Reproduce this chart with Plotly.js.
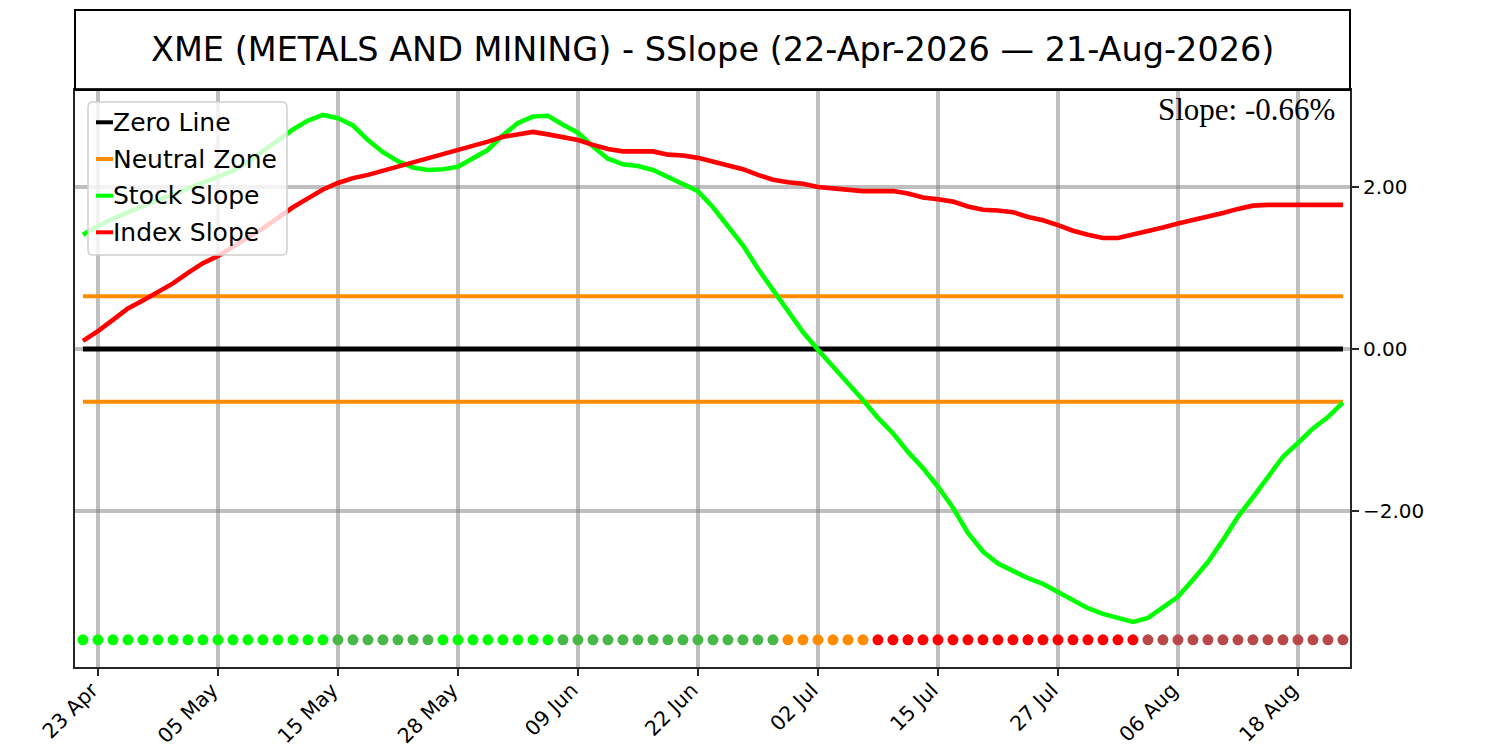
<!DOCTYPE html>
<html>
<head>
<meta charset="utf-8">
<script src="https://cdn.plot.ly/plotly-3.0.1.min.js"></script>
<style>
  html, body { margin: 0; padding: 0; background: #fff; }
  #chart { width: 1500px; height: 750px; }
</style>
</head>
<body>
<div id="chart"></div>
<script>
// trading days 22 Apr - 21 Aug 2026
const dayLabels = [
  '22 Apr', '23 Apr', '24 Apr', '27 Apr', '28 Apr', '29 Apr', '30 Apr',
  '01 May', '04 May', '05 May', '06 May', '07 May', '08 May', '11 May', '12 May',
  '13 May', '14 May', '15 May', '18 May', '19 May', '20 May', '21 May', '22 May',
  '26 May', '27 May', '28 May', '29 May',
  '01 Jun', '02 Jun', '03 Jun', '04 Jun', '05 Jun', '08 Jun', '09 Jun', '10 Jun',
  '11 Jun', '12 Jun', '15 Jun', '16 Jun', '17 Jun', '18 Jun', '22 Jun', '23 Jun',
  '24 Jun', '25 Jun', '26 Jun', '29 Jun', '30 Jun',
  '01 Jul', '02 Jul', '06 Jul', '07 Jul', '08 Jul', '09 Jul', '10 Jul', '13 Jul',
  '14 Jul', '15 Jul', '16 Jul', '17 Jul', '20 Jul', '21 Jul', '22 Jul', '23 Jul',
  '24 Jul', '27 Jul', '28 Jul', '29 Jul', '30 Jul', '31 Jul',
  '03 Aug', '04 Aug', '05 Aug', '06 Aug', '07 Aug', '10 Aug', '11 Aug', '12 Aug',
  '13 Aug', '14 Aug', '17 Aug', '18 Aug', '19 Aug', '20 Aug', '21 Aug'
];

const tickDays = ['23 Apr', '05 May', '15 May', '28 May', '09 Jun', '22 Jun',
                  '02 Jul', '15 Jul', '27 Jul', '06 Aug', '18 Aug'];

const stockSlope = [
  1.41, 1.52, 1.61, 1.69, 1.77, 1.84, 1.91, 1.98, 2.05, 2.12,
  2.20, 2.31, 2.44, 2.57, 2.71, 2.82, 2.89, 2.85, 2.76, 2.58,
  2.43, 2.32, 2.24, 2.21, 2.22, 2.25, 2.35, 2.46, 2.64, 2.79,
  2.87, 2.88, 2.77, 2.67, 2.50, 2.35, 2.28, 2.26, 2.21, 2.12,
  2.04, 1.95, 1.75, 1.52, 1.28, 0.99, 0.73, 0.46, 0.21, -0.01,
  -0.21, -0.41, -0.63, -0.85, -1.04, -1.27, -1.47, -1.70, -1.96, -2.27,
  -2.50, -2.65, -2.74, -2.83, -2.90, -3.00, -3.10, -3.20, -3.27, -3.32,
  -3.37, -3.32, -3.19, -3.06, -2.85, -2.63, -2.36, -2.07, -1.83, -1.57,
  -1.33, -1.16, -0.98, -0.84, -0.66
];

const indexSlope = [
  0.10, 0.22, 0.36, 0.50, 0.60, 0.70, 0.81, 0.94, 1.06, 1.15,
  1.26, 1.37, 1.49, 1.62, 1.75, 1.86, 1.97, 2.05, 2.11, 2.15,
  2.20, 2.25, 2.30, 2.36, 2.41, 2.46, 2.51, 2.56, 2.62, 2.65,
  2.68, 2.65, 2.62, 2.58, 2.52, 2.47, 2.44, 2.44, 2.44, 2.40,
  2.39, 2.36, 2.31, 2.27, 2.22, 2.15, 2.09, 2.06, 2.04, 2.00,
  1.98, 1.97, 1.95, 1.95, 1.95, 1.92, 1.87, 1.85, 1.82, 1.76,
  1.72, 1.71, 1.69, 1.63, 1.59, 1.53, 1.46, 1.41, 1.37, 1.37,
  1.41, 1.45, 1.50, 1.55, 1.59, 1.63, 1.68, 1.73, 1.77, 1.78,
  1.78, 1.79, 1.78, 1.78, 1.78
];

const zeroLevel = 0;
const neutralBand = 0.65;
const signalLevel = -3.59;
const yTicks = [-2, 0, 2];

const GREEN = '#00ff00', GREEN_FADE = '#47b847';
const RED = '#ff0000', RED_FADE = '#b94848';
const ORANGE = '#ff8c00';
const FONT = 'DejaVu Sans';

// plot area in pixels
const L = 75, R = 1350, T = 90, B = 667;
const px = x => (x - L) / (R - L);
const py = y => (B - y) / (B - T);

function signalColor(v, prev) {
  if (Math.abs(v) <= neutralBand) return ORANGE;
  const rising = prev === undefined || v > prev;
  if (v > 0) return rising ? GREEN : GREEN_FADE;
  return rising ? RED_FADE : RED;
}

function roundedRect(x0, y0, x1, y1, r) {
  const rx = r / (R - L), ry = r / (B - T);
  const a = px(x0), b = px(x1), top = py(y0), bot = py(y1);
  return `M ${a + rx},${top} L ${b - rx},${top} Q ${b},${top} ${b},${top - ry} ` +
         `L ${b},${bot + ry} Q ${b},${bot} ${b - rx},${bot} ` +
         `L ${a + rx},${bot} Q ${a},${bot} ${a},${bot + ry} ` +
         `L ${a},${top - ry} Q ${a},${top} ${a + rx},${top} Z`;
}

const first = dayLabels[0], last = dayLabels[dayLabels.length - 1];

const traces = [
  { x: [first, last], y: [zeroLevel, zeroLevel], mode: 'lines',
    line: { color: '#000', width: 5 } },
  { x: [first, last], y: [neutralBand, neutralBand], mode: 'lines',
    line: { color: ORANGE, width: 4 } },
  { x: [first, last], y: [-neutralBand, -neutralBand], mode: 'lines',
    line: { color: ORANGE, width: 4 } },
  { x: dayLabels, y: stockSlope, mode: 'lines',
    line: { color: GREEN, width: 4.6 } },
  { x: dayLabels, y: indexSlope, mode: 'lines',
    line: { color: RED, width: 4.6 } },
  { x: dayLabels, y: dayLabels.map(() => signalLevel), mode: 'markers',
    marker: { size: 11, color: stockSlope.map((v, i) => signalColor(v, stockSlope[i - 1])),
              line: { width: 0 } } }
];

// manual legend (short handles like the original)
const legendItems = [
  ['Zero Line', '#000'], ['Neutral Zone', ORANGE],
  ['Stock Slope', GREEN], ['Index Slope', RED]
];
const rowY = [122.3, 159, 195.7, 232.3];

const shapes = [
  { type: 'rect', xref: 'paper', yref: 'paper', x0: 0, x1: 1, y0: 1, y1: py(10),
    line: { color: '#000', width: 2 }, layer: 'above' },
  { type: 'path', xref: 'paper', yref: 'paper', path: roundedRect(88, 102, 287, 255, 5),
    fillcolor: 'rgba(255,255,255,0.8)', line: { color: '#d0d0d0', width: 1.5 }, layer: 'above' }
];
legendItems.forEach(([, c], i) => {
  shapes.push({ type: 'line', xref: 'paper', yref: 'paper',
    x0: px(96), x1: px(113), y0: py(rowY[i]), y1: py(rowY[i]),
    line: { color: c, width: 4 }, layer: 'above' });
});

const annotations = [
  { text: 'XME (METALS AND MINING) - SSlope (22-Apr-2026 \u2014 21-Aug-2026)',
    xref: 'paper', yref: 'paper', x: 0.5, y: py(50), xanchor: 'center', yanchor: 'middle',
    showarrow: false, font: { family: FONT, size: 33.5, color: '#000' } },
  { text: `Slope: ${stockSlope[stockSlope.length - 1].toFixed(2)}%`,
    xref: 'paper', yref: 'paper', x: px(1337), y: py(109), xanchor: 'right', yanchor: 'middle',
    showarrow: false, font: { family: 'Liberation Serif', size: 31, color: '#000' } }
];
legendItems.forEach(([name], i) => {
  annotations.push({ text: name, xref: 'paper', yref: 'paper',
    x: px(111), y: py(rowY[i]), xanchor: 'left', yanchor: 'middle', showarrow: false,
    font: { family: FONT, size: 25, color: '#000' } });
});

const layout = {
  width: 1500, height: 750,
  margin: { l: L, r: 1500 - R, t: T, b: 750 - B, pad: 0 },
  paper_bgcolor: '#fff', plot_bgcolor: '#fff',
  showlegend: false,
  font: { family: FONT, size: 20, color: '#000' },
  xaxis: {
    type: 'category', categoryorder: 'array', categoryarray: dayLabels,
    range: [-0.53, 84.47],
    tickmode: 'array', tickvals: tickDays, ticktext: tickDays, tickangle: -45,
    ticks: 'outside', ticklen: 7, tickwidth: 2, tickcolor: '#262626',
    ticklabelshift: -6, ticklabelstandoff: -6,
    showgrid: true, gridcolor: 'rgba(128,128,128,0.5)', gridwidth: 4,
    showline: true, mirror: true, linecolor: '#262626', linewidth: 2,
    tickfont: { family: FONT, size: 20.5, color: '#000' }, zeroline: false
  },
  yaxis: {
    side: 'right', range: [-3.926, 3.198],
    tickmode: 'array', tickvals: yTicks, tickformat: '.2f',
    ticks: 'outside', ticklen: 7, tickwidth: 2, tickcolor: '#262626',
    showgrid: true, gridcolor: 'rgba(128,128,128,0.5)', gridwidth: 4,
    showline: true, mirror: true, linecolor: '#262626', linewidth: 2,
    tickfont: { family: FONT, size: 20, color: '#000' }, zeroline: false
  },
  shapes: shapes,
  annotations: annotations
};

Plotly.newPlot('chart', traces, layout, { staticPlot: true, displayModeBar: false });
</script>
</body>
</html>
